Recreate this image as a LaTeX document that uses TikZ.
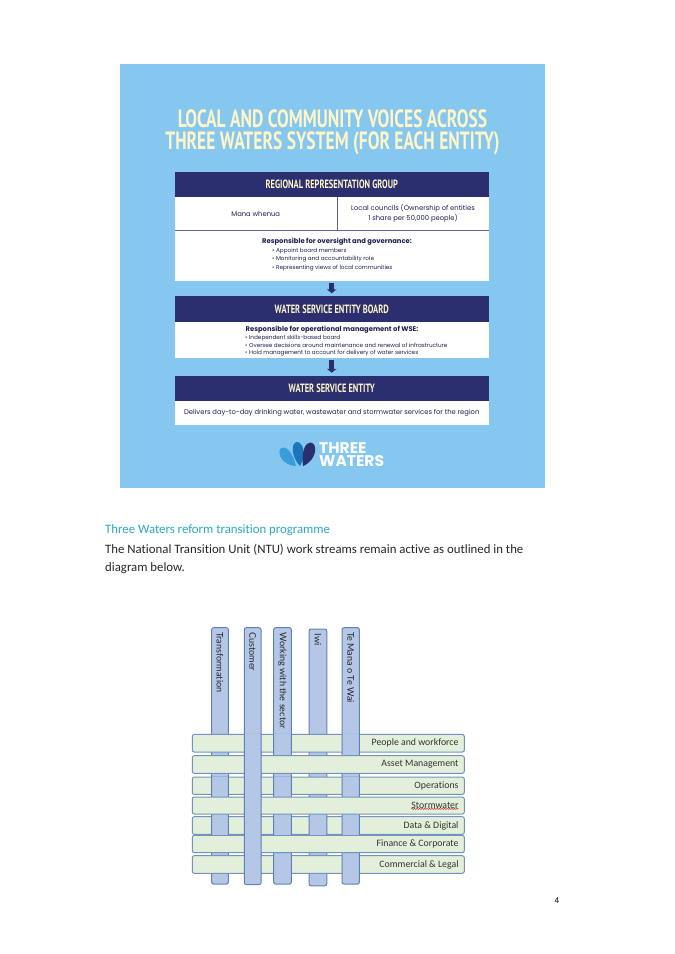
\documentclass[tikz,border=0pt]{standalone}
\usepackage{fontspec}
\usepackage{tikz}
\usetikzlibrary{positioning}
\usetikzlibrary{arrows.meta}
\usetikzlibrary{decorations.pathmorphing}
\setmainfont[Ligatures=NoCommon]{Carlito}
\newfontfamily\titlefont[FakeStretch=0.70]{PT Sans}
\newfontfamily\panelfont{Poppins}
\newfontfamily\bandfont[Ligatures=NoCommon]{Carlito}
\newfontfamily\columnfont[Ligatures=NoCommon]{Lato}
\definecolor{panelblue}{HTML}{85C7EE}
\definecolor{navybar}{HTML}{2B2F70}
\definecolor{creamtext}{HTML}{FFF5C8}
\definecolor{headteal}{HTML}{2AA8C4}
\definecolor{bandblue}{HTML}{B4C7E7}
\definecolor{bandedge}{HTML}{5F82B5}
\definecolor{rowgreen}{HTML}{E2EFDA}
\definecolor{rowedge}{HTML}{7393BE}
\definecolor{petalleft}{HTML}{3A9DDB}
\definecolor{petalmid}{HTML}{1B75BB}
\tikzset{
    headbar/.style = {fill=navybar, text=creamtext, inner sep=0pt, outer sep=0pt,
        minimum width=314.5pt, minimum height=25.5pt,
        font=\titlefont\bfseries\fontsize{12}{14}\selectfont},
    infobox/.style = {fill=white, text=navybar!70!black, inner sep=0pt, outer sep=0pt,
        font=\panelfont\fontsize{6.8}{10}\selectfont, align=center},
    infolist/.style = {text=navybar!70!black, inner sep=0pt, align=left,
        font=\panelfont\fontsize{5.7}{8.5}\selectfont},
    flowarrow/.style = {draw=navybar, line width=5pt, shorten <=2pt, shorten >=3pt,
        -{Triangle[width=9.5pt,length=4pt]}},
    divider/.style = {draw=navybar!75, line width=1pt},
    vband/.style = {fill=bandblue, draw=bandedge, line width=1pt, rounded corners=2pt},
    hband/.style = {fill=rowgreen, draw=rowedge, line width=1pt, rounded corners=2pt},
    vlabel/.style = {rotate=-90, anchor=west, inner sep=0pt, text=black!85,
        font=\columnfont\fontsize{9.1}{12}\selectfont},
    hlabel/.style = {anchor=east, inner sep=0pt, text=black!80,
        font=\bandfont\fontsize{9.8}{12}\selectfont},
    bodytext/.style = {anchor=base west, inner sep=0pt, text=black!85,
        font=\fontsize{12.8}{15}\selectfont},
    spellmark/.style = {draw=red!80!black, line width=.4pt, decorate,
        decoration={snake, amplitude=.5pt, segment length=2.5pt}},
    titleline/.style = {text=creamtext, inner sep=0pt,
        font=\titlefont\bfseries\fontsize{25}{28}\selectfont},
    logotext/.style = {text=white, inner sep=0pt, anchor=west,
        font=\panelfont\bfseries\fontsize{15.5}{16}\selectfont},
}
\begin{document}
\begin{tikzpicture}[x=1pt,y=-1pt]
    \useasboundingbox (0,0) rectangle (675,954);

    % top panel
    \fill[panelblue] (120,64) rectangle (544.5,488);
    \node[titleline] (titleone) at (332.5,119) {LOCAL AND COMMUNITY VOICES ACROSS};
    \node[titleline] (titletwo) at (332.5,143) {THREE WATERS SYSTEM (FOR EACH ENTITY)};

    \node[headbar] (group) at (331.75,184.5) {REGIONAL REPRESENTATION GROUP};
    \node[infobox, minimum width=162.5pt, minimum height=33pt, text depth=0pt] (mana) at (255.75,213.5) {Mana whenua};
    \node[infobox, minimum width=152pt, minimum height=33pt] (local) at (413,213.5)
        {Local councils (Ownership of entities\\1 share per 50,000 people)};
    \draw[divider] (mana.north east) -- (mana.south east);
    \draw[divider] (mana.south west) -- (local.south east);
    \node[infobox, minimum width=314.5pt, minimum height=50pt] (oversight) at (331.75,256) {};
    \node[infobox, font=\panelfont\bfseries\fontsize{6.8}{10}\selectfont] (oversighthead) at (337,242)
        {Responsible for oversight and governance:};
    \node[infolist, anchor=north west] (oversightlist) at (272,247.5)
        {• Appoint board members\\• Monitoring and accountability role\\• Representing views of local communities};

    \node[headbar] (board) at (331.75,309) {WATER SERVICE ENTITY BOARD};
    \node[infobox, minimum width=314.5pt, minimum height=36pt] (operational) at (331.75,340) {};
    \node[infobox, font=\panelfont\bfseries\fontsize{6.8}{10}\selectfont] (operationalhead) at (332,329.5)
        {Responsible for operational management of WSE:};
    \node[infolist, anchor=north west, font=\panelfont\fontsize{5.7}{7.6}\selectfont] (operationallist) at (245,335)
        {• Independent skills-based board\\• Oversee decisions around maintenance and renewal of infrastructure\\• Hold management to account for delivery of water services};

    \node[headbar] (entity) at (331.75,388.5) {WATER SERVICE ENTITY};
    \node[infobox, minimum width=314.5pt, minimum height=23.5pt] (delivers) at (331.75,413)
        {Delivers day-to-day drinking water, wastewater and stormwater services for the region};

    \draw[flowarrow] (oversight.south) -- (board.north);
    \draw[flowarrow] (operational.south) -- (entity.north);

    % logo
    \fill[petalleft] (296,466) .. controls (287,466) and (277,458) .. (280,449)
        .. controls (286,444) and (293,453) .. (296,466) -- cycle;
    \fill[petalmid] (300,466) .. controls (292,458) and (290,443) .. (297,442)
        .. controls (303,442) and (307,455) .. (300,466) -- cycle;
    \fill[navybar] (303,466) .. controls (302,455) and (303,443) .. (311,442.5)
        .. controls (318,444) and (317,460) .. (303,466) -- cycle;
    \node[logotext] (logothree) at (319,448) {THREE};
    \node[logotext] (logowaters) at (319,461) {WATERS};

    % text between the figures
    \node[bodytext, text=headteal] (progtitle) at (105,533) {Three Waters reform transition programme};
    \node[bodytext] (bodyone) at (105,553.3) {The National Transition Unit (NTU) work streams remain active as outlined in the};
    \node[bodytext] (bodytwo) at (105,571) {diagram below.};
    \node[inner sep=0pt, font=\fontsize{9}{11}\selectfont] (pagenum) at (557,901) {4};

    % the weave: columns first
    \foreach \name/\cx/\bandw/\cy/\bandh in {
        transformation/220/16.6/755.9/256.4,
        customer/252.7/16.7/756.1/256.8,
        sector/282.5/17.6/755.9/256.4,
        iwi/317.9/17.7/757.4/256.7,
        temana/350.7/17.3/755.9/256.4} {
        \node[vband, minimum width=\bandw pt, minimum height=\bandh pt, inner sep=0pt] (\name) at (\cx,\cy) {};
    }
    % rows over them
    \foreach \name/\cy/\bandh/\txt in {
        people/743.2/17.6/People and workforce,
        asset/764.5/17.6/Asset Management,
        operations/785.7/17.3/Operations,
        stormwater/805.5/17/Stormwater,
        digital/825.5/17.6/Data \& Digital,
        finance/844/17.4/Finance \& Corporate,
        legal/864.5/17.6/Commercial \& Legal} {
        \node[hband, minimum width=272pt, minimum height=\bandh pt, inner sep=0pt] (\name) at (328.3,\cy) {};
        \node[hlabel] (\name-text) at (458.7,\cy) {\txt};
    }
    % columns back on top where they pass over a row
    \foreach \xa/\xb/\ya/\yb/\pieces in {
        211.7/228.3/627.7/884.1/{777/794.3,816.7/834.3},
        244.35/261.05/627.7/884.5/{734.4/873.3},
        273.7/291.3/627.7/884.1/{734.4/752,777/794.3,816.7/834.3,855.7/873.3},
        309.05/326.75/629/885.7/{816.7/834.3},
        342.05/359.35/627.7/884.1/{734.4/752,777/794.3,816.7/834.3,855.7/873.3}} {
        \foreach \ytop/\ybot in \pieces {
            \begin{scope}
                \clip (\xa-2,\ytop) rectangle (\xb+2,\ybot);
                \path[vband] (\xa,\ya) rectangle (\xb,\yb);
            \end{scope}
        }
    }
    \foreach \name/\cx/\ly/\txt in {
        transformation/220/632/Transformation,
        customer/252.7/632/Customer,
        sector/282.5/632/Working with the sector,
        iwi/317.9/633.5/Iwi,
        temana/350.7/632/Te Mana o Te Wai} {
        \node[vlabel] (\name-text) at (\cx,\ly) {\txt};
    }
    \draw[spellmark] (stormwater-text.south west) -- (stormwater-text.south east);
\end{tikzpicture}
\end{document}
